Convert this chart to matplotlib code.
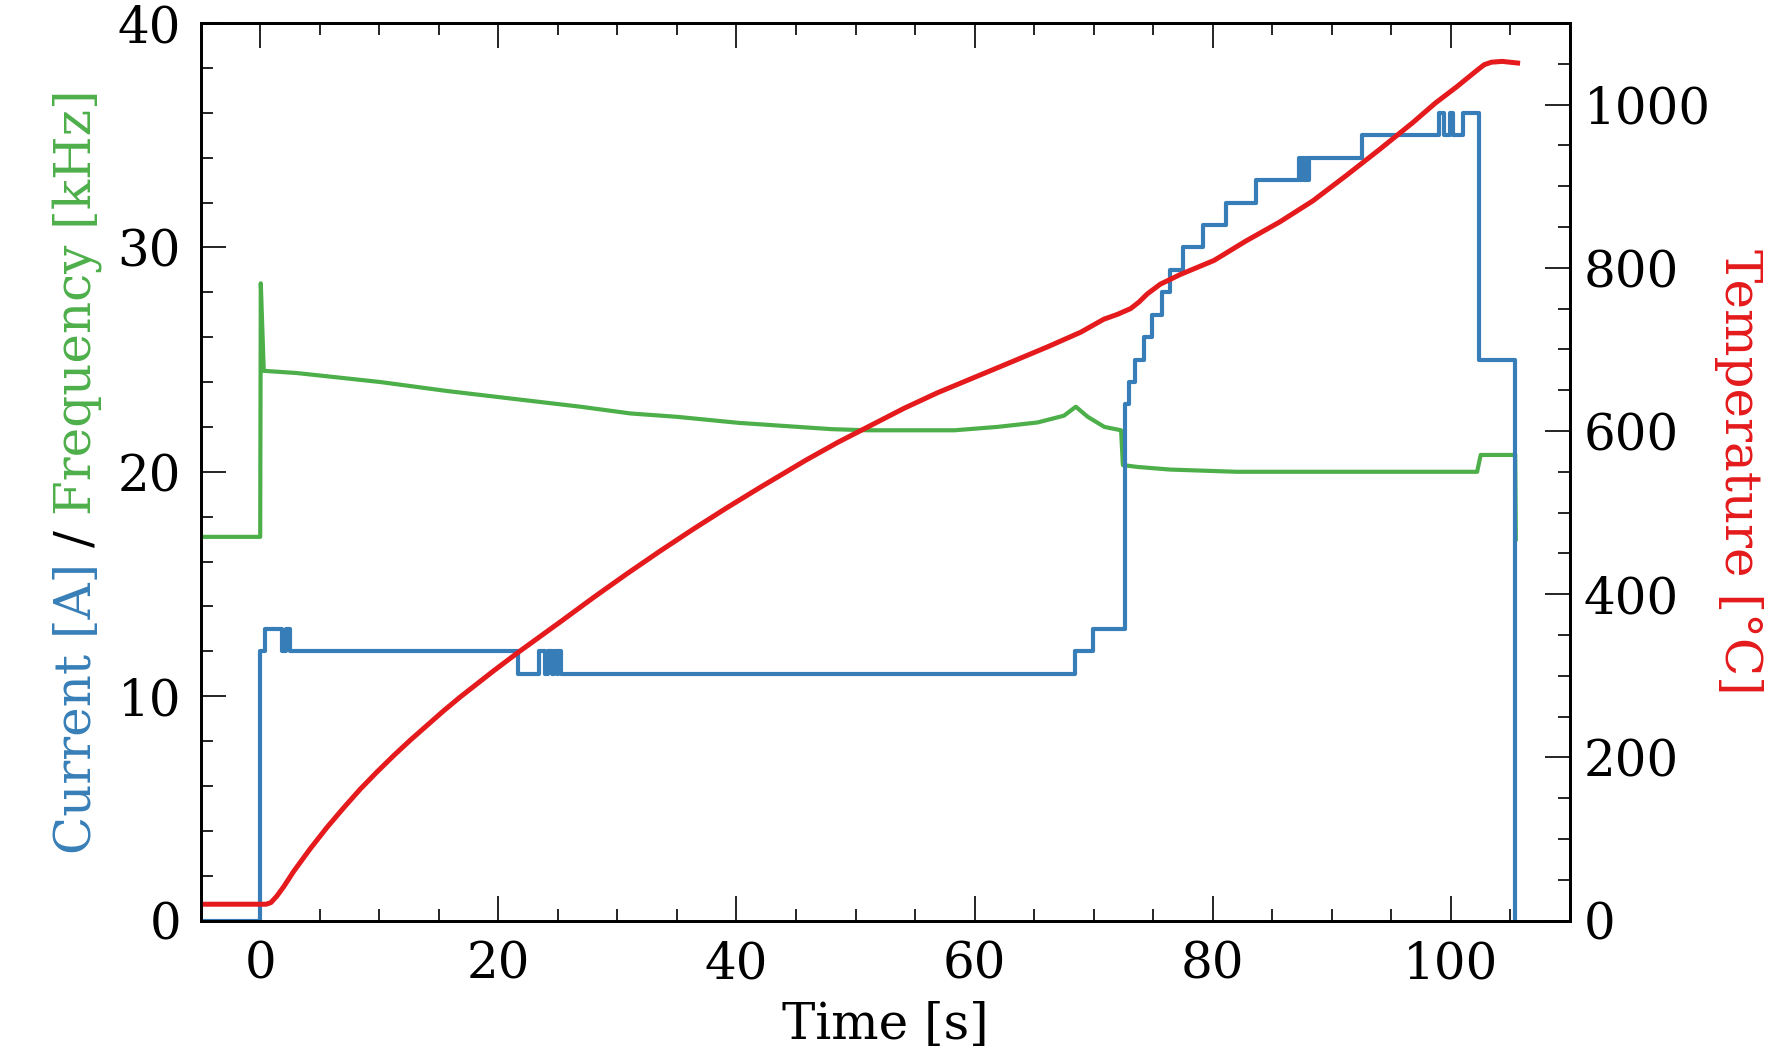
import numpy as np
import matplotlib
matplotlib.use('Agg')
import matplotlib.pyplot as plt
from matplotlib.ticker import MultipleLocator

plt.rcParams['font.family'] = 'DejaVu Serif'
plt.rcParams['font.size'] = 18

BLUE = '#377eb8'
GREEN = '#4daf4a'
RED = '#e41a1c'

# Corriente (escalones) [s], [A]
tiempo_corriente = [-5, -0.05, 0.42, 1.82, 2.2, 2.5, 21.65, 23.45, 23.9, 24.2, 24.5,
                    24.65, 24.9, 25.0, 25.3, 68.45, 69.9, 72.6, 73.0, 73.5, 74.2,
                    74.9, 75.7, 76.4, 77.5, 79.2, 81.1, 83.6, 87.2, 87.35, 87.5,
                    87.65, 87.8, 87.95, 88.1, 92.5, 99.0, 99.4, 99.9, 100.2, 101.0,
                    102.4, 105.4]
corriente = [0, 12, 13, 12, 13, 12, 11, 12, 11, 12, 11,
             12, 11, 12, 11, 12, 13, 23, 24, 25, 26,
             27, 28, 29, 30, 31, 32, 33, 34, 33, 34,
             33, 34, 33, 34, 35, 36, 35, 36, 35, 36,
             25, 0]

# Frecuencia [s], [kHz]
tiempo_frecuencia = [-5, 0.0, 0.05, 0.3, 3.1, 10.1, 15.7, 21.3, 26.9, 31.1, 35.0,
                     40.2, 45.2, 48.0, 51.0, 58.3, 61.9, 65.3, 67.5, 68.5, 69.5,
                     70.9, 72.3, 72.45, 73.6, 76.4, 82.0, 102.2, 102.5, 105.4, 105.45]
frecuencia = [17.1, 17.1, 28.4, 24.5, 24.4, 24.0, 23.6, 23.25, 22.9, 22.6, 22.45,
              22.18, 22.0, 21.9, 21.85, 21.85, 22.0, 22.2, 22.5, 22.9, 22.45,
              22.0, 21.85, 20.3, 20.22, 20.1, 20.0, 20.0, 20.75, 20.75, 17.0]

# Temperatura [s], [C]
tiempo_temp = [-5, 0.5, 0.9, 1.4, 2.0, 2.8, 3.5, 4.2, 5.6, 7.0, 8.4, 9.8, 11.2,
               12.6, 14.0, 15.4, 16.8, 18.2, 19.6, 21.6, 23.4, 25.2, 28.0, 30.8,
               33.6, 36.4, 39.2, 42.0, 45.8, 48.5, 51.3, 54.1, 56.9, 59.7, 62.5,
               66.1, 68.9, 70.85, 72.0, 73.1, 73.8, 74.5, 75.6, 77.3, 80.1, 82.8,
               85.6, 88.4, 91.2, 94.0, 96.8, 98.7, 100.5, 102.1, 102.8, 103.4,
               104.3, 105.6]
temperatura = [20, 20, 22, 30, 42, 60, 74, 88, 114, 138, 161, 182, 202,
               221, 239, 257, 274, 290, 306, 328, 347, 366, 396, 425,
               453, 480, 506, 531, 564, 586, 607, 628, 647, 664, 681,
               703, 721, 737, 743, 750, 758, 768, 780, 792, 809, 833,
               856, 882, 913, 945, 978, 1002, 1022, 1041, 1049, 1052,
               1053, 1051]

fig = plt.figure(figsize=(8.855, 5.31), dpi=200)
ax = fig.add_axes([0.1133, 0.1332, 0.7732, 0.8451])

ax.plot(tiempo_frecuencia, frecuencia, color=GREEN, lw=1.5)
ax.plot(tiempo_corriente, corriente, color=BLUE, lw=1.5, drawstyle='steps-post')

ax2 = ax.twinx()
ax2.plot(tiempo_temp, temperatura, color=RED, lw=1.8)

ax.set_xlim(-5, 110)
ax.set_ylim(0, 40)
ax2.set_ylim(0, 1100)

ax.xaxis.set_major_locator(MultipleLocator(20))
ax.xaxis.set_minor_locator(MultipleLocator(5))
ax.yaxis.set_major_locator(MultipleLocator(10))
ax.yaxis.set_minor_locator(MultipleLocator(2))
ax2.yaxis.set_major_locator(MultipleLocator(200))
ax2.yaxis.set_minor_locator(MultipleLocator(50))

for a in (ax, ax2):
    for s in a.spines.values():
        s.set_linewidth(1.0)
ax.tick_params(which='both', direction='in', top=True, right=False, width=0.6)
ax.tick_params(which='major', length=9, pad=7)
ax.tick_params(which='minor', length=4.2)
ax2.tick_params(which='both', direction='in', width=0.6)
ax2.tick_params(which='major', length=9, pad=5)
ax2.tick_params(which='minor', length=4.2)

ax.set_xlabel('Time [s]', labelpad=4)

# etiqueta izquierda en varios colores
fig.canvas.draw()
r = fig.canvas.get_renderer()
H = fig.bbox.height


def largo(s):
    t = fig.text(0, 0, s, rotation=90)
    h = t.get_window_extent(r).height
    t.remove()
    return h


espacio = largo('a a') - largo('aa')
partes = [('Current [A]', BLUE), ('/', 'black'), ('Frequency [kHz]', GREEN)]
largos = [largo(p) for p, _ in partes]
total = sum(largos) + 2 * espacio
centro = (0.1332 + 0.8451 / 2) * H
y = centro - total / 2
for (p, c), l in zip(partes, largos):
    fig.text(0.0435, y / H, p, color=c, rotation=90, ha='center', va='bottom')
    y += l + espacio

fig.text(0.982, 0.1332 + 0.8451 / 2, 'Temperature [°C]', color=RED,
         rotation=270, ha='center', va='center')

plt.savefig('out.png', dpi=200)
